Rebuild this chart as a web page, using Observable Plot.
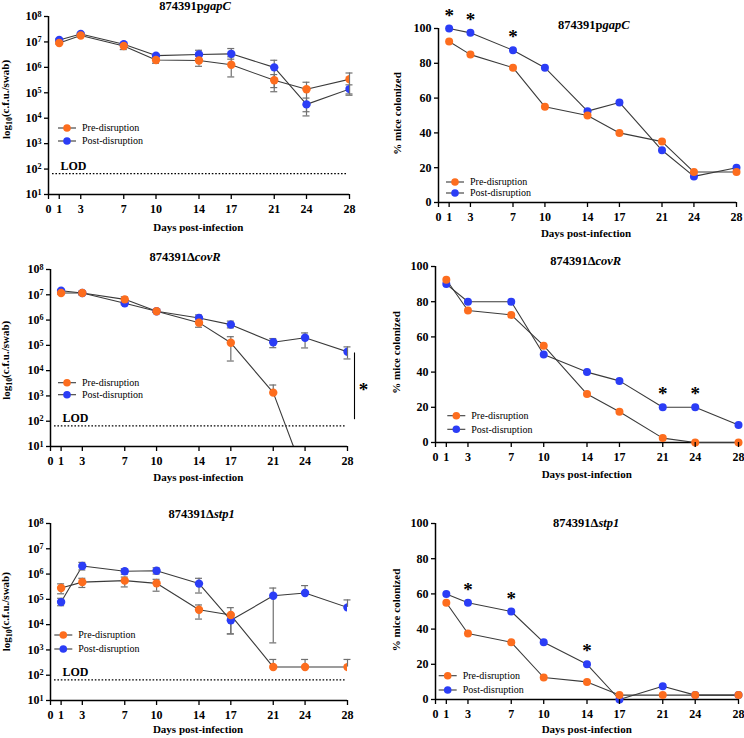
<!DOCTYPE html>
<html>
<head>
<meta charset="utf-8">
<script src="https://cdn.jsdelivr.net/npm/d3@7"></script>
<script src="https://cdn.jsdelivr.net/npm/@observablehq/plot@0.6"></script>
<style>
  html, body { margin: 0; padding: 0; background: #fff; }
  #fig { position: relative; width: 744px; height: 738px; overflow: hidden; }
  .panel { position: absolute; }
  #labels { position: absolute; left: 0; top: 0; pointer-events: none; }
</style>
</head>
<body>
<div id="fig"></div>
<script>
// ---- shared axes ----
const days = [1, 3, 7, 10, 14, 17, 21, 24, 28];
const dayTicks = [0, 1, 3, 7, 10, 14, 17, 21, 24, 28];
const logTicks = [1e1, 1e2, 1e3, 1e4, 1e5, 1e6, 1e7, 1e8];
const pctTicks = [0, 20, 40, 60, 80, 100];
const LOD = 66; // limit of detection, c.f.u./swab

// ---- strains ----
const strainPrefix = ["874391p", "874391\u0394", "874391\u0394"];
const strainGene = ["gapC", "covR", "stp1"];
const groupNames = ["Pre-disruption", "Post-disruption"];

// ---- 874391pgapC: c.f.u./swab (mean with error bar bounds) ----
const gapcCfuPre   = [9.1e6, 1.78e7, 6.9e6, 1.95e6, 1.86e6, 1.26e6, 3.1e5, 1.38e5, 3.4e5];
const gapcCfuPreLo = [8.3e6, 1.5e7, 5.0e6, 1.45e6, 1.1e6, 4.2e5, 1.6e5, 1.8e4, 8.0e4];
const gapcCfuPreHi = [1.0e7, 2.0e7, 8.5e6, 2.4e6, 2.8e6, 2.6e6, 5.2e5, 2.6e5, 6.0e5];
const gapcCfuPost   = [1.2e7, 2.04e7, 8.1e6, 2.9e6, 3.2e6, 3.4e6, 1.0e6, 3.5e4, 1.4e5];
const gapcCfuPostLo = [1.1e7, 1.9e7, 7.5e6, 2.6e6, 2.2e6, 2.1e6, 1.1e5, 1.23e4, 9.0e4];
const gapcCfuPostHi = [1.3e7, 2.2e7, 8.8e6, 3.2e6, 4.7e6, 5.5e6, 1.9e6, 6.2e4, 2.05e5];

// ---- 874391ΔcovR: c.f.u./swab ----
const covrCfuPre   = [1.17e7, 1.17e7, 6.6e6, 2.24e6, 7.9e5, 1.26e5, 1.35e3, 0.6, 0.6];
const covrCfuPreLo = [1.05e7, 1.0e7, 4.8e6, 2.0e6, 5.2e5, 2.4e4, null, null, null];
const covrCfuPreHi = [1.3e7, 1.4e7, 8.3e6, 2.5e6, 1.2e6, 2.2e5, 2.7e3, null, null];
const covrCfuPost   = [1.45e7, 1.17e7, 4.6e6, 2.24e6, 1.2e6, 6.6e5, 1.32e5, 2.0e5, 5.6e4];
const covrCfuPostLo = [1.35e7, 1.0e7, 4.0e6, 2.0e6, 8.7e5, 4.9e5, 8.1e4, 7.9e4, 2.9e4];
const covrCfuPostHi = [1.55e7, 1.35e7, 5.2e6, 2.5e6, 1.6e6, 9.1e5, 1.86e5, 3.1e5, 8.7e4];
const covrBracket = [5.0e4, 1.15e2]; // span of the day-28 comparison bar

// ---- 874391Δstp1: c.f.u./swab ----
const stp1CfuPre   = [2.8e5, 4.8e5, 5.5e5, 4.3e5, 3.9e4, 2.4e4, 2.1e2, 2.1e2, 2.1e2];
const stp1CfuPreLo = [1.66e5, 2.95e5, 3.1e5, 2.1e5, 1.66e4, 4.3e3, null, null, null];
const stp1CfuPreHi = [4.1e5, 6.8e5, 7.6e5, 6.2e5, 6.0e4, 4.7e4, 4.2e2, 4.2e2, 4.2e2];
const stp1CfuPost   = [7.8e4, 2.1e6, 1.29e6, 1.35e6, 4.2e5, 1.48e4, 1.38e5, 1.78e5, 4.8e4];
const stp1CfuPostLo = [5.6e4, 1.45e6, 9.8e5, 1.0e6, 1.78e5, 4.3e3, 1.9e3, null, null];
const stp1CfuPostHi = [1.1e5, 2.9e6, 1.62e6, 1.78e6, 6.8e5, 2.5e4, 2.8e5, 3.5e5, 9.5e4];

// ---- % mice colonized ----
const gapcPctPre  = [92.5, 85, 77.5, 55, 50, 40, 35, 17.5, 17.5];
const gapcPctPost = [100, 97.5, 87.5, 77.5, 52.5, 57.5, 30, 15, 20];
const gapcPctSig  = [1, 3, 7];
const covrPctPre  = [92.5, 75, 72.5, 55, 27.5, 17.5, 2.5, 0, 0];
const covrPctPost = [90, 80, 80, 50, 40, 35, 20, 20, 10];
const covrPctSig  = [21, 24];
const stp1PctPre  = [55, 37.5, 32.5, 12.5, 10, 2.5, 2.5, 2.5, 2.5];
const stp1PctPost = [60, 55, 50, 32.5, 20, 0, 7.5, 2.5, 2.5];
const stp1PctSig  = [3, 7, 14];

// ---- styling ----
const serif = '"Liberation Serif", "Times New Roman", serif';
const orange = "#fd6d1e";
const blue = "#2b3df6";
const lineColor = "#3a3a3a";
const errColor = "#707070";
const colorOf = g => (g === "Pre" ? orange : blue);

// panel frames: svg position and margins (px)
const frames = [
  {left: 0,   top: 0,   h: 240, ml: 48, mr: 23, mt: 16, mb: 46},
  {left: 372, top: 0,   h: 240, ml: 66, mr: 8,  mt: 28, mb: 38},
  {left: 0,   top: 240, h: 250, ml: 50, mr: 25, mt: 29, mb: 44},
  {left: 372, top: 240, h: 250, ml: 63, mr: 6,  mt: 26, mb: 48},
  {left: 0,   top: 490, h: 248, ml: 50, mr: 25, mt: 33, mb: 38},
  {left: 372, top: 490, h: 248, ml: 63, mr: 6,  mt: 33, mb: 39}
];

function seriesRows(pre, post, preLo, preHi, postLo, postHi) {
  const rows = [];
  // post first so the orange dots sit on top
  days.forEach((d, i) => rows.push({day: d, group: "Post", value: post[i],
    lo: postLo ? postLo[i] : null, hi: postHi ? postHi[i] : null}));
  days.forEach((d, i) => rows.push({day: d, group: "Pre", value: pre[i],
    lo: preLo ? preLo[i] : null, hi: preHi ? preHi[i] : null}));
  return rows;
}

function baseOptions(f) {
  return {
    width: 372, height: f.h,
    marginLeft: f.ml, marginRight: f.mr, marginTop: f.mt, marginBottom: f.mb,
    style: {fontFamily: serif, fontSize: "12px", fontWeight: "bold", color: "#000",
            background: "transparent", overflow: "visible"},
    x: {domain: [0, 28], label: null}
  };
}

function axes(yTicks, yFormat) {
  return [
    Plot.axisX({ticks: dayTicks, tickSize: 5, tickPadding: 5, tickFormat: d => String(d),
                label: null, strokeWidth: 1.3}),
    Plot.axisY({ticks: yTicks, tickSize: 4, tickPadding: 3, tickFormat: yFormat,
                label: null, strokeWidth: 1.3})
  ];
}

function errorMarks(rows) {
  const withErr = rows.filter(d => d.lo != null || d.hi != null);
  return [
    Plot.ruleX(withErr, {x: "day", y1: d => d.lo ?? d.value, y2: d => d.hi ?? d.value,
                         stroke: errColor, strokeWidth: 1.2}),
    Plot.ruleY(rows.filter(d => d.hi != null), {y: "hi", x1: "day", x2: "day",
               insetLeft: -3.5, insetRight: -3.5, stroke: errColor, strokeWidth: 1.2}),
    Plot.ruleY(rows.filter(d => d.lo != null), {y: "lo", x1: "day", x2: "day",
               insetLeft: -3.5, insetRight: -3.5, stroke: errColor, strokeWidth: 1.2})
  ];
}

function cfuPanel(f, rows, extra = []) {
  const svg = Plot.plot({
    ...baseOptions(f),
    y: {type: "log", domain: [1e1, 1e8], label: null},
    marks: [
      Plot.ruleY([LOD], {strokeDasharray: "1.6,1.8", strokeWidth: 1.2, insetLeft: 4, insetRight: 2}),
      Plot.text(["LOD"], {frameAnchor: "left", y: () => LOD, text: d => d, dx: 12, dy: -4,
                          lineAnchor: "bottom", textAnchor: "start", fontSize: 12}),
      Plot.line(rows, {x: "day", y: "value", z: "group", stroke: lineColor, strokeWidth: 1.1, clip: true}),
      ...errorMarks(rows),
      Plot.dot(rows, {x: "day", y: "value", r: 4.2, fill: d => colorOf(d.group), clip: true}),
      Plot.ruleX([0], {strokeWidth: 1.5}),
      Plot.ruleY([1e1], {strokeWidth: 1.5}),
      ...extra,
      ...axes(logTicks, d => "10^" + Math.round(Math.log10(d)))
    ]
  });
  // render tick labels as 10 with a superscript exponent
  d3.select(svg).selectAll("text").each(function () {
    const m = /^10\^(\d+)$/.exec(this.textContent);
    if (!m) return;
    const t = d3.select(this);
    t.text(null);
    t.append("tspan").text("10");
    t.append("tspan").attr("dy", "-0.45em").attr("font-size", "0.68em").text(m[1]);
  });
  return svg;
}

function pctPanel(f, pre, post, sig) {
  const rows = seriesRows(pre, post);
  return Plot.plot({
    ...baseOptions(f),
    y: {domain: [0, 100], label: null},
    marks: [
      Plot.ruleX([0], {strokeWidth: 1.5}),
      Plot.ruleY([0], {strokeWidth: 1.5}),
      Plot.line(rows, {x: "day", y: "value", z: "group", stroke: lineColor, strokeWidth: 1.1}),
      Plot.dot(rows, {x: "day", y: "value", r: 4, fill: d => colorOf(d.group)}),
      Plot.text(sig, {x: d => d, y: d => post[days.indexOf(d)], text: () => "*",
                      dy: -13, fontSize: 19}),
      ...axes(pctTicks, d => String(d))
    ]
  });
}

const fig = document.getElementById("fig");
function place(svg, f) {
  const wrap = document.createElement("div");
  wrap.className = "panel";
  wrap.style.left = f.left + "px";
  wrap.style.top = f.top + "px";
  wrap.appendChild(svg);
  fig.appendChild(wrap);
}

const gapcRows = seriesRows(gapcCfuPre, gapcCfuPost, gapcCfuPreLo, gapcCfuPreHi, gapcCfuPostLo, gapcCfuPostHi);
const covrRows = seriesRows(covrCfuPre, covrCfuPost, covrCfuPreLo, covrCfuPreHi, covrCfuPostLo, covrCfuPostHi);
const stp1Rows = seriesRows(stp1CfuPre, stp1CfuPost, stp1CfuPreLo, stp1CfuPreHi, stp1CfuPostLo, stp1CfuPostHi);

// day-28 significance bar for ΔcovR
const covrSigMarks = [
  Plot.ruleX([28], {y1: covrBracket[0], y2: covrBracket[1], dx: 7, strokeWidth: 1.1}),
  Plot.text(["*"], {x: () => 28, y: () => Math.sqrt(covrBracket[0] * covrBracket[1]),
                    text: d => d, dx: 16, dy: 4, fontSize: 19})
];

place(cfuPanel(frames[0], gapcRows), frames[0]);
place(pctPanel(frames[1], gapcPctPre, gapcPctPost, gapcPctSig), frames[1]);
place(cfuPanel(frames[2], covrRows, covrSigMarks), frames[2]);
place(pctPanel(frames[3], covrPctPre, covrPctPost, covrPctSig), frames[3]);
place(cfuPanel(frames[4], stp1Rows), frames[4]);
place(pctPanel(frames[5], stp1PctPre, stp1PctPost, stp1PctSig), frames[5]);

// ---- titles, axis titles and legends ----
const titlePos  = [[195, 9.5], [593.7, 29], [185, 260.7], [585.7, 265], [201.7, 518.3], [586.2, 526.7]];
const xLabelPos = [[198.3, 231], [586, 236.7], [198.3, 480.7], [586.7, 477.7], [198, 733.3], [586.7, 733.3]];
const yLabelPos = [[10, 99.5], [401, 113.5], [10, 360.3], [400, 352.5], [10, 611.7], [400, 610]];
const legendPos = [[67, 128, 141], [455, 182, 193], [67, 382.7, 394.7], [456.3, 415.7, 429.3], [63.3, 635, 649], [447.7, 675.7, 690]];

const overlay = d3.select(fig).append("svg")
  .attr("id", "labels").attr("width", 744).attr("height", 738)
  .style("font-family", serif);

titlePos.forEach(([x, y], i) => {
  const s = Math.floor(i / 2);
  const t = overlay.append("text").attr("x", x).attr("y", y)
    .attr("text-anchor", "middle").attr("font-size", 12.5).attr("font-weight", "bold");
  t.append("tspan").text(strainPrefix[s]);
  t.append("tspan").attr("font-style", "italic").text(strainGene[s]);
});

xLabelPos.forEach(([x, y]) => {
  overlay.append("text").attr("x", x).attr("y", y).attr("text-anchor", "middle")
    .attr("font-size", 11).attr("font-weight", "bold").text("Days post-infection");
});

yLabelPos.forEach(([x, y], i) => {
  const t = overlay.append("text").attr("transform", `translate(${x},${y}) rotate(-90)`)
    .attr("text-anchor", "middle").attr("font-size", 11).attr("font-weight", "bold");
  if (i % 2 === 0) {
    t.append("tspan").text("log");
    t.append("tspan").attr("dy", "0.3em").attr("font-size", "0.72em").text("10");
    t.append("tspan").attr("dy", "-0.3em").text("(c.f.u./swab)");
  } else {
    t.text("% mice colonized");
  }
});

legendPos.forEach(([x, y1, y2]) => {
  [[y1, orange, groupNames[0]], [y2, blue, groupNames[1]]].forEach(([y, c, name]) => {
    const g = overlay.append("g").attr("transform", `translate(${x},${y})`);
    g.append("line").attr("x1", -9).attr("x2", 9).attr("stroke", lineColor).attr("stroke-width", 1.1);
    g.append("circle").attr("r", 3.8).attr("fill", c);
    g.append("text").attr("x", 15).attr("dy", "0.34em").attr("font-size", 10).text(name);
  });
});
</script>
</body>
</html>
